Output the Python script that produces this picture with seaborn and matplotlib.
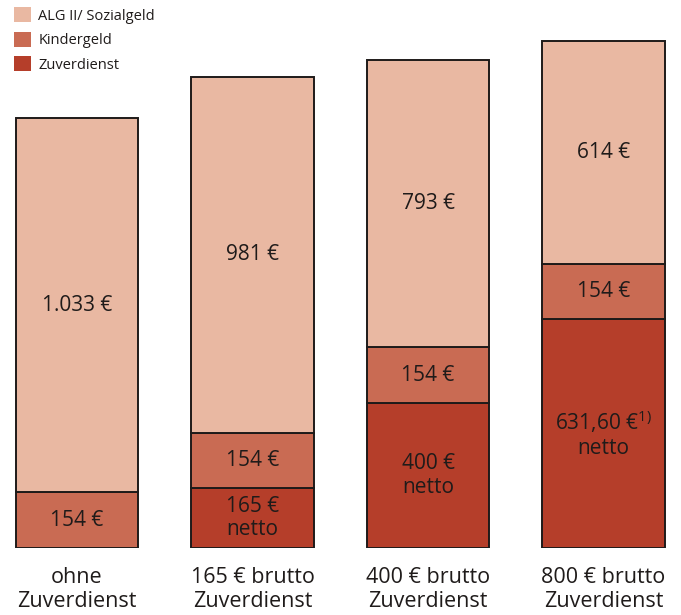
import matplotlib
matplotlib.use("Agg")
import matplotlib.pyplot as plt
from matplotlib.patches import Patch
import seaborn as sns
import pandas as pd

# Data
categories = ["ohne\nZuverdienst", "165 € brutto\nZuverdienst",
              "400 € brutto\nZuverdienst", "800 € brutto\nZuverdienst"]
zuverdienst = [0, 165, 400, 631.60]
kindergeld = [154, 154, 154, 154]
alg2 = [1033, 981, 793, 614]
series_names = ["ALG II/ Sozialgeld", "Kindergeld", "Zuverdienst"]
colors = {"ALG II/ Sozialgeld": "#E9B8A2",
          "Kindergeld": "#C96B53",
          "Zuverdienst": "#B53E2A"}

sns.set_theme(style="white")
plt.rcParams["font.family"] = ["Open Sans", "DejaVu Sans"]
plt.rcParams["mathtext.fontset"] = "custom"
plt.rcParams["mathtext.rm"] = "Open Sans"
plt.rcParams["mathtext.it"] = "Open Sans"

df = pd.DataFrame({"cat": categories, "Zuverdienst": zuverdienst,
                   "Kindergeld": kindergeld, "ALG II/ Sozialgeld": alg2})

fig = plt.figure(figsize=(6.81, 6.15), dpi=100)
ax = fig.add_axes([0, 67 / 615, 1, 548 / 615])

edge = "#1E1A19"
bottoms = [0.0] * len(categories)
for name in ["Zuverdienst", "Kindergeld", "ALG II/ Sozialgeld"]:
    vals = df[name].tolist()
    sns.barplot(data=df, x="cat", y=name, order=categories, bottom=bottoms,
                color=colors[name], saturation=1, width=0.70,
                edgecolor=edge, linewidth=1.4, ax=ax)
    bottoms = [b + v for b, v in zip(bottoms, vals)]


def fmt(v):
    if float(v).is_integer():
        return f"{int(v):,}".replace(",", ".")
    return f"{v:.2f}".replace(".", ",")


txt = "#1F1B1A"
fs = 15
for i in range(len(categories)):
    z, k, a = zuverdienst[i], kindergeld[i], alg2[i]
    if z > 0:
        if float(z).is_integer():
            lab = f"{fmt(z)} €\nnetto"
        else:
            lab = f"{fmt(z)} €$^{{1)}}$\nnetto"
        ax.text(i, z / 2, lab, ha="center", va="center", fontsize=fs,
                color=txt, linespacing=1.15)
    ax.text(i, z + k / 2, f"{fmt(k)} €", ha="center", va="center",
            fontsize=fs, color=txt)
    ax.text(i, z + k + a / 2, f"{fmt(a)} €", ha="center", va="center",
            fontsize=fs, color=txt)

ax.set_xlim(-77 / 175.5, (681 - 77) / 175.5)
ax.set_ylim(0, 548 / 0.362)
ax.set_xlabel("")
ax.set_ylabel("")
ax.set_yticks([])
ax.tick_params(axis="x", length=0, pad=14, labelsize=15.5, labelcolor=txt)
for lab in ax.get_xticklabels():
    lab.set_linespacing(1.15)
sns.despine(ax=ax, left=True, bottom=True)

handles = [Patch(facecolor=colors[n], edgecolor="none", label=n)
           for n in series_names]
fig.legend(handles=handles, loc="upper left", bbox_to_anchor=(0.02, 0.988),
           frameon=False, fontsize=10.5, handlelength=1.2, handleheight=1.2,
           handletextpad=0.5, labelspacing=0.55, borderaxespad=0,
           borderpad=0, labelcolor=txt)

fig.savefig("out.png", dpi=100)
